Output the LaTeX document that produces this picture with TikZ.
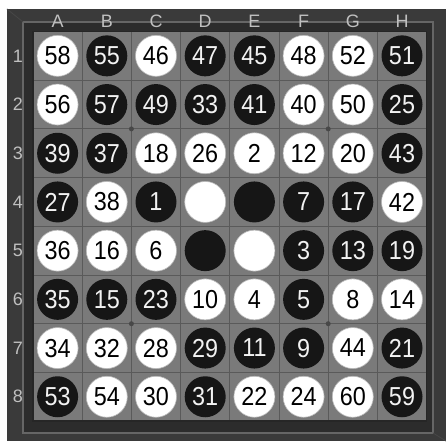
\documentclass[tikz,border=0pt]{standalone}
\usepackage{fontspec}
\setmainfont{Liberation Sans}
\newfontfamily\digitfont[FakeStretch=0.9]{Liberation Sans}
\definecolor{frameC}{HTML}{3A3A3A}
\definecolor{frameIn}{HTML}{2C2C2C}
\definecolor{bevelC}{HTML}{666666}
\definecolor{boardC}{HTML}{7A7A7A}
\definecolor{gridC}{HTML}{5A5A5A}
\definecolor{labC}{HTML}{C0C0C0}
\definecolor{blackD}{HTML}{161616}
\definecolor{whiteT}{HTML}{F2F2F2}
\tikzset{
  disc/.style={circle, minimum size=41pt, inner sep=0pt,
    font=\digitfont\fontsize{26}{26}\selectfont},
  whitedisc/.style={disc, fill=white, draw=gray!55, line width=0.6pt, text=black},
  blackdisc/.style={disc, fill=blackD, text=whiteT},
  lab/.style={text=labC, font=\fontsize{18}{18}\selectfont, inner sep=0pt},
  gridline/.style={draw=gridC, line width=1pt},
  stardot/.style={circle, fill=gridC!80!black, inner sep=0pt, minimum size=5pt}
}
\begin{document}
\begin{tikzpicture}[x=1pt,y=-1pt]
\useasboundingbox (0,0) rectangle (446,441);
% outer white margin and frame
\fill[white] (0,0) rectangle (446,441);
\fill[frameC] (7,9) rectangle (446,441);
\draw[bevelC, line width=1.2pt] (23,22) rectangle (433,433);
\draw[bevelC!70!black, line width=0.8pt] (7,9) -- (23,22);
\draw[bevelC!70!black, line width=0.8pt] (446,441) -- (433,433);
\fill[frameIn] (24,23) rectangle (432,432);
% board
\fill[boardC] (33,31.5) rectangle (426.6,421);
\foreach \i in {1,...,7} {
  \draw[gridline] ({33+\i*49.2},31.5) -- ({33+\i*49.2},421);
  \draw[gridline] (33,{31.5+\i*48.7}) -- (426.6,{31.5+\i*48.7});
}
\draw[draw=black!85, line width=1.5pt] (33,31.5) rectangle (426.6,421);
% star points
\foreach \cx/\cy [count=\k] in {2/2,6/2,2/6,6/6}
  \node[stardot] (star\k) at ({33+\cx*49.2},{31.5+\cy*48.7}) {};
% labels
\foreach \l [count=\i] in {A,B,C,D,E,F,G,H}
  \node[lab] (col\l) at ({33+(\i-0.5)*49.2},21) {\l};
\foreach \i in {1,...,8}
  \node[lab] (row\i) at (18,{31.5+(\i-0.5)*48.7}) {\i};
% white discs
\foreach \c/\r/\n in {1/1/58,3/1/46,6/1/48,7/1/52,
  1/2/56,6/2/40,7/2/50,
  3/3/18,4/3/26,5/3/2,6/3/12,7/3/20,
  2/4/38,4/4/{},8/4/42,
  1/5/36,2/5/16,3/5/6,5/5/{},
  4/6/10,5/6/4,7/6/8,8/6/14,
  1/7/34,2/7/32,3/7/28,7/7/44,
  2/8/54,3/8/30,5/8/22,6/8/24,7/8/60}
  \node[whitedisc] (d-\c-\r) at ({33+(\c-0.5)*49.2},{31.5+(\r-0.5)*48.7}) {\n};
% black discs
\foreach \c/\r/\n in {2/1/55,4/1/47,5/1/45,8/1/51,
  2/2/57,3/2/49,4/2/33,5/2/41,8/2/25,
  1/3/39,2/3/37,8/3/43,
  1/4/27,3/4/1,5/4/{},6/4/7,7/4/17,
  4/5/{},6/5/3,7/5/13,8/5/19,
  1/6/35,2/6/15,3/6/23,6/6/5,
  4/7/29,5/7/11,6/7/9,8/7/21,
  1/8/53,4/8/31,8/8/59}
  \node[blackdisc] (d-\c-\r) at ({33+(\c-0.5)*49.2},{31.5+(\r-0.5)*48.7}) {\n};
\end{tikzpicture}
\end{document}
